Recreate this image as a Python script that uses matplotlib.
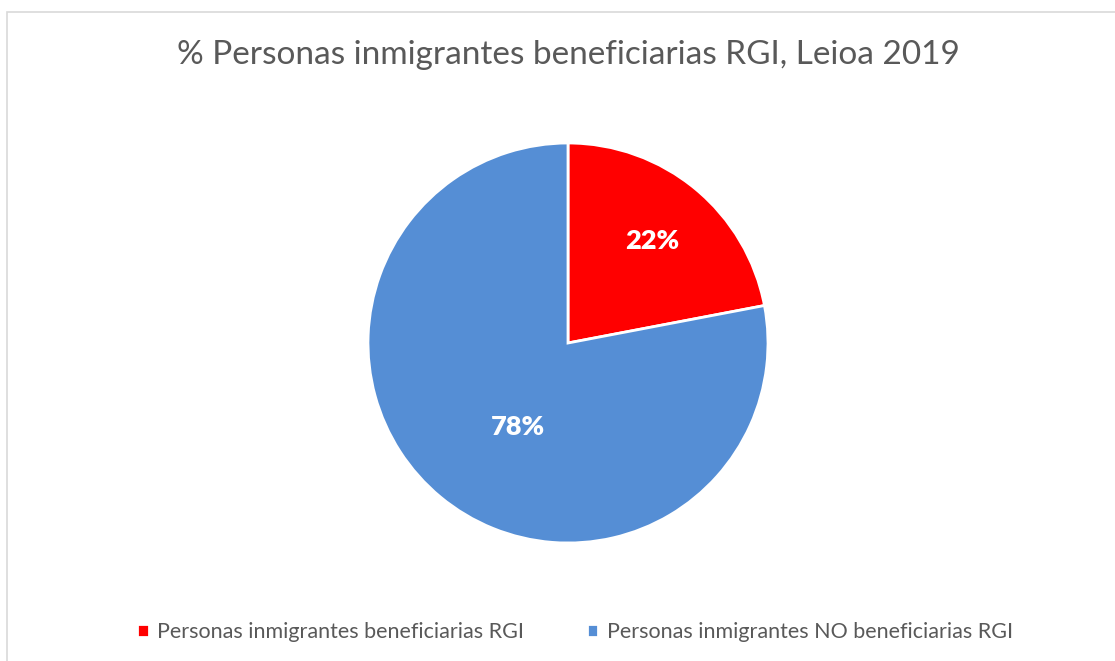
import matplotlib.pyplot as plt
from matplotlib.patches import Rectangle

categories = ['Personas inmigrantes beneficiarias RGI', 'Personas inmigrantes NO beneficiarias RGI']
values = [22, 78]
colors = ['#FF0000', '#558ED5']

plt.rcParams['font.family'] = ['Lato', 'DejaVu Sans']

W, H = 1115, 661
fig = plt.figure(figsize=(W / 100, H / 100), dpi=100)

# light grey chart frame (Excel style)
fig.patches.append(Rectangle((7 / W, -0.1), 1.2, (H - 12) / H + 0.1, transform=fig.transFigure,
                             fill=False, edgecolor='#D9D9D9', linewidth=1.2))

# pie area: radius 200 px, centred at (568, 343)
ax = fig.add_axes([368 / W, 118 / H, 400 / W, 400 / H])
wedges, texts, autotexts = ax.pie(values, colors=colors, startangle=90, counterclock=False,
                                  autopct='%1.0f%%', pctdistance=0.66,
                                  wedgeprops=dict(edgecolor='white', linewidth=2),
                                  textprops=dict(color='white', fontsize=19.5, fontweight='heavy'))
ax.set_xlim(-1, 1)
ax.set_ylim(-1, 1)
ax.set_aspect('equal')
# Excel puts the big slice label closer to the centre
autotexts[1].set_position((-0.25, -0.42))

fig.text(568 / W, 1 - 55 / H, '% Personas inmigrantes beneficiarias RGI, Leioa 2019',
         ha='center', va='center', fontsize=24, color='#595959')

fig.legend(wedges, categories, loc='center', bbox_to_anchor=(575 / W, 1 - 632 / H), ncol=2,
           frameon=False, fontsize=15.5, labelcolor='#595959', handlelength=0.55, handleheight=0.55,
           handletextpad=0.4, columnspacing=2.9)

fig.savefig('out.png', dpi=100)
